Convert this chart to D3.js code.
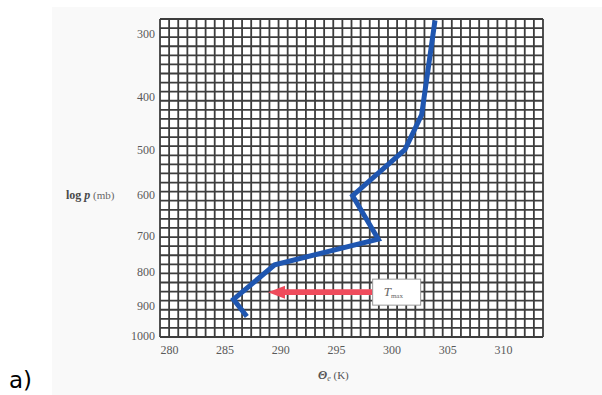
<!DOCTYPE html>
<html>
<head>
<meta charset="utf-8">
<script src="https://d3js.org/d3.v7.min.js"></script>
<style>
	html, body { margin: 0; padding: 0; background: #ffffff; }
	svg { display: block; }
	.tick text { font-family: "Liberation Serif", "DejaVu Serif", serif; font-size: 12px; fill: #5a5a5a; }
</style>
</head>
<body>
<div id="chart"></div>
<script>
	var thetaValues = [303.9, 302.7, 301.2, 296.5, 298.8, 289.5, 285.8, 287.0];
	var pressureValues = [282, 433, 501, 602, 710, 780, 882, 936];

	var pressureTicks = [300, 400, 500, 600, 700, 800, 900, 1000];
	var thetaTicks = [280, 285, 290, 295, 300, 305, 310];

	// the T max marker : arrow pressure, arrow tail and tip (theta)
	var markerPressure = [860];
	var markerTheta = [298.3, 288.9];

	var width = 602,
		height = 395;

	var plot = { left: 160, right: 543, top: 19, bottom: 337 };
	var gridCols = 42,
		gridRows = 35;

	var svg = d3.select("#chart").append("svg")
		.attr("width", width)
		.attr("height", height);

	// light grey of the scanned page
	svg.append("rect")
		.attr("x", 52).attr("y", 7)
		.attr("width", width - 52).attr("height", height - 7)
		.attr("fill", "#f9f9f9");

	var x = d3.scaleLinear()
		.domain([279.2, 313.6])
		.range([plot.left, plot.right]);

	// pressure axis is spaced like p^kappa
	var y = d3.scalePow()
		.exponent(0.286)
		.domain([280, 1000])
		.range([plot.top, plot.bottom - 1]);

	/**
	 * Graph paper grid
	 **/
	var grid = svg.append("g").attr("class", "grid");
	var gx = d3.scaleLinear().domain([0, gridCols]).range([plot.left, plot.right]);
	var gy = d3.scaleLinear().domain([0, gridRows]).range([plot.top, plot.bottom]);

	grid.append("rect")
		.attr("x", plot.left).attr("y", plot.top)
		.attr("width", plot.right - plot.left)
		.attr("height", plot.bottom - plot.top)
		.attr("fill", "#ffffff");

	grid.selectAll(".vline")
		.data(d3.range(gridCols + 1))
		.enter().append("line")
		.attr("class", "vline")
		.attr("x1", function (d) { return gx(d); })
		.attr("x2", function (d) { return gx(d); })
		.attr("y1", plot.top).attr("y2", plot.bottom)
		.attr("stroke", "#3d3d3d")
		.attr("stroke-width", 1.8);

	grid.selectAll(".hline")
		.data(d3.range(gridRows + 1))
		.enter().append("line")
		.attr("class", "hline")
		.attr("y1", function (d) { return gy(d); })
		.attr("y2", function (d) { return gy(d); })
		.attr("x1", plot.left).attr("x2", plot.right)
		.attr("stroke", "#3d3d3d")
		.attr("stroke-width", 1.8);

	/**
	 * Axes
	 **/
	var yAxis = d3.axisLeft(y)
		.tickValues(pressureTicks)
		.tickSize(0)
		.tickPadding(5)
		.tickFormat(d3.format("d"));

	svg.append("g")
		.attr("transform", "translate(" + plot.left + ",0)")
		.call(yAxis)
		.call(function (g) { g.select(".domain").remove(); });

	var xAxis = d3.axisBottom(x)
		.tickValues(thetaTicks)
		.tickSize(0)
		.tickPadding(8.5)
		.tickFormat(d3.format("d"));

	svg.append("g")
		.attr("transform", "translate(0," + plot.bottom + ")")
		.call(xAxis)
		.call(function (g) { g.select(".domain").remove(); });

	// axis titles
	var yTitle = svg.append("text")
		.attr("x", 66).attr("y", y(600) + 4)
		.attr("font-family", "Liberation Serif, serif")
		.attr("fill", "#4a4a4a");
	yTitle.append("tspan").attr("font-weight", "bold").attr("font-size", 12).text("log ");
	yTitle.append("tspan").attr("font-weight", "bold").attr("font-style", "italic").attr("font-size", 12).text("p");
	yTitle.append("tspan").attr("font-size", 11).attr("fill", "#666").text(" (mb)");

	var xTitle = svg.append("text")
		.attr("x", 318).attr("y", 379)
		.attr("font-family", "Liberation Serif, serif")
		.attr("fill", "#555");
	xTitle.append("tspan").attr("font-style", "italic").attr("font-weight", "bold").attr("font-size", 12).text("Θ");
	xTitle.append("tspan").attr("font-size", 8).attr("dy", 2).attr("font-style", "italic").text("e");
	xTitle.append("tspan").attr("font-size", 11).attr("dy", -2).text(" (K)");

	/**
	 * Sounding line
	 **/
	var points = thetaValues.map(function (t, i) {
		return [t, pressureValues[i]];
	});

	var line = d3.line()
		.x(function (d) { return x(d[0]); })
		.y(function (d) { return y(d[1]); });

	svg.append("path")
		.datum(points)
		.attr("d", line)
		.attr("fill", "none")
		.attr("stroke", "#1f56b0")
		.attr("stroke-width", 5)
		.attr("stroke-linejoin", "miter");

	/**
	 * T max arrow and label box
	 **/
	var ay = y(markerPressure[0]),
		tail = x(markerTheta[0]),
		tip = x(markerTheta[1]);

	svg.append("rect")
		.attr("x", tail - 28).attr("y", ay - 2.5)
		.attr("width", 28).attr("height", 5.5)
		.attr("fill", "#ffffff");

	svg.append("path")
		.attr("d", "M" + tail + "," + (ay - 2.8) +
			"L" + (tip + 17) + "," + (ay - 2.8) +
			"L" + (tip + 17) + "," + (ay - 6.5) +
			"L" + tip + "," + ay +
			"L" + (tip + 17) + "," + (ay + 6.5) +
			"L" + (tip + 17) + "," + (ay + 2.8) +
			"L" + tail + "," + (ay + 2.8) + "Z")
		.attr("fill", "#ef4b5c");

	svg.append("rect")
		.attr("x", tail).attr("y", ay - 13)
		.attr("width", 48).attr("height", 26)
		.attr("fill", "#ffffff")
		.attr("stroke", "#9a9a9a")
		.attr("stroke-width", 1);

	var tLabel = svg.append("text")
		.attr("x", tail + 11).attr("y", ay + 4)
		.attr("font-family", "Liberation Serif, serif")
		.attr("fill", "#666");
	tLabel.append("tspan").attr("font-style", "italic").attr("font-size", 13).text("T");
	tLabel.append("tspan").attr("font-size", 7).attr("dy", 2).text("max");

	// panel letter
	svg.append("text")
		.attr("x", 9).attr("y", 388)
		.attr("font-family", "DejaVu Sans, sans-serif")
		.attr("font-size", 23)
		.attr("fill", "#000")
		.text("a)");
</script>
</body>
</html>
